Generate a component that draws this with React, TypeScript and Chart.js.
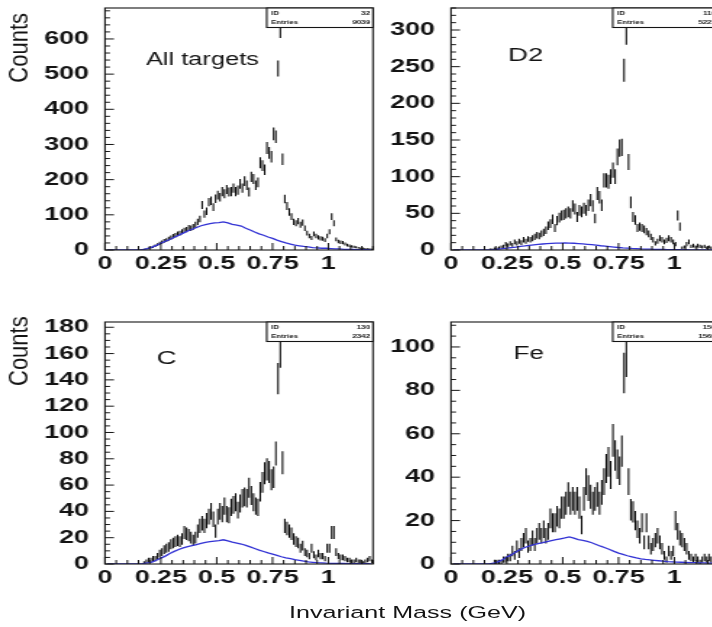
import React, { useEffect, useRef } from "react";
import { Chart, registerables } from "chart.js";

Chart.register(...registerables);

// ---------------- DATA ----------------
// Histogram bins: width 0.01 GeV, first bin starts at 0.15 GeV (centres 0.155 ... 1.195)
const BIN_START = 0.15;
const BIN_WIDTH = 0.01;
// Background (blue) curve sampled every 0.02 GeV starting at 0.01 GeV
const BG_START = 0.01;
const BG_STEP = 0.02;

const allTargetsCounts = [
  0, 1, 2, 3, 5, 7, 9, 12, 15, 19,
  22, 26, 28, 32, 35, 39, 42, 46, 48, 52,
  56, 58, 63, 62, 66, 72, 80, 88, 128, 102,
  110, 136, 140, 122, 146, 156, 150, 166, 160, 172,
  165, 166, 176, 166, 170, 188, 176, 196, 184, 165,
  208, 202, 184, 192, 248, 240, 228, 290, 276, 265,
  330, 322, 516, 628, 258, 145, 125, 108, 95, 80,
  76, 82, 72, 78, 62, 48, 40, 34, 46, 40,
  36, 33, 32, 28, 40, 52, 95, 76, 30, 24,
  22, 21, 17, 14, 12, 10, 9, 8, 6, 5,
  5, 4, 3, 3, 2,
];

const d2Counts = [
  0, 0, 1, 1, 2, 2, 3, 4, 5, 8,
  6, 9, 7, 11, 9, 12, 10, 14, 12, 15,
  14, 16, 18, 20, 19, 22, 24, 27, 33, 36,
  42, 30, 40, 44, 47, 48, 50, 52, 50, 60,
  56, 45, 54, 52, 57, 54, 61, 68, 60, 43,
  77, 72, 61, 95, 95, 93, 100, 109, 100, 127,
  139, 140, 245, 297, 120, 65, 45, 41, 30, 32,
  30, 28, 25, 22, 18, 14, 9, 12, 16, 14,
  11, 13, 16, 14, 11, 8, 47, 32, 3, 4,
  8, 11, 5, 6, 4, 6, 5, 4, 5, 3,
  4, 3, 2, 3, 2,
];

const carbonCounts = [
  0, 0, 1, 2, 3, 3, 4, 4, 6, 8,
  9, 11, 12, 13, 15, 16, 17, 18, 17, 19,
  24, 23, 22, 20, 18, 20, 25, 29, 31, 29,
  33, 36, 40, 34, 25, 36, 40, 38, 44, 38,
  37, 43, 45, 47, 41, 46, 50, 51, 50, 58,
  52, 47, 44, 43, 55, 62, 69, 72, 70, 64,
  66, 84, 141, 162, 77, 29, 27, 25, 23, 19,
  17, 16, 12, 14, 9, 8, 6, 12, 7, 5,
  8, 6, 6, 4, 12, 12, 24, 24, 9, 6,
  5, 5, 4, 3, 3, 2, 2, 3, 2, 2,
  1, 2, 3, 4, 2,
];

const ironCounts = [
  0, 0, 0, 0, 1, 1, 1, 1, 2, 2,
  3, 3, 6, 4, 8, 5, 9, 11, 13, 8,
  9, 12, 9, 13, 15, 13, 16, 13, 15, 21,
  19, 19, 22, 21, 26, 26, 28, 32, 28, 30,
  28, 30, 26, 18, 30, 38, 35, 31, 28, 30,
  32, 28, 33, 38, 44, 47, 41, 57, 50, 46,
  43, 52, 88, 96, 38, 25, 24, 20, 16, 13,
  19, 10, 19, 10, 7, 9, 11, 13, 10, 7,
  4, 2, 6, 4, 6, 20, 15, 12, 11, 9,
  7, 4, 3, 2, 3, 2, 1, 2, 3, 2,
  3, 2, 2, 1, 2,
];

const allTargetsBackground = [
  0, 0, 0, 0, 0, 0, 0,
  0, 1, 4, 8, 13, 19, 25, 30, 36, 42,
  48, 54, 59, 64, 69, 72, 75, 77, 78, 80,
  77, 73, 71, 68, 62, 57, 51, 46, 42, 37,
  33, 28, 24, 20, 17, 14, 12, 10, 9, 7,
  6, 5, 5, 4, 3, 3, 2, 2, 2, 1,
  1, 1, 1,
];

const d2Background = [
  0, 0, 0, 0, 0, 0, 0,
  0, 0.3, 0.6, 1, 1.8, 2.5, 3.3, 4, 4.8, 5.5,
  6.3, 7, 7.6, 8.2, 8.6, 9, 9.3, 9.5, 9.6, 9.5,
  9.2, 8.8, 8.3, 7.8, 7.2, 6.5, 5.8, 5.2, 4.6, 4,
  3.4, 2.9, 2.5, 2.1, 1.8, 1.5, 1.3, 1.1, 0.9, 0.8,
  0.7, 0.6, 0.5, 0.5, 0.4, 0.4, 0.3, 0.3, 0.3, 0.2,
  0.2, 0.2, 0.2,
];

const carbonBackground = [
  0, 0, 0, 0, 0, 0, 0,
  0, 0.3, 0.8, 1.5, 2.8, 4.5, 6, 8, 9.6, 11,
  12.2, 13.2, 14, 14.8, 15.6, 16.4, 17, 17.4, 17.8, 18.4,
  17.6, 16.6, 15.9, 15.2, 14.2, 13, 11.8, 10.6, 9.5, 8.4,
  7.5, 6.5, 5.5, 4.7, 4, 3.3, 2.8, 2.2, 1.6, 1.3,
  1, 0.8, 0.6, 0.5, 0.5, 0.4, 0.4, 0.3, 0.3, 0.3,
  0.2, 0.2, 0.2,
];

const ironBackground = [
  0, 0, 0, 0, 0, 0, 0,
  0, 0.1, 0.4, 1, 2, 3.2, 4.2, 5.5, 6.7, 7.6,
  8.3, 8.9, 9.4, 9.8, 10.3, 10.8, 11.2, 11.6, 12, 12.5,
  11.9, 11.2, 10.9, 10.4, 9.8, 9, 8.2, 7.5, 6.7, 5.8,
  5, 4.4, 3.8, 3.3, 2.8, 2.4, 2.1, 1.9, 1.7, 1.5,
  1.3, 1.1, 1, 0.9, 0.8, 0.7, 0.6, 0.6, 0.5, 0.5,
  0.4, 0.4, 0.3,
];

const X_TICK_VALUES = [0, 0.25, 0.5, 0.75, 1];
const X_TICK_LABELS = ["0", "0.25", "0.5", "0.75", "1"];
const allTargetsYTicks = [0, 100, 200, 300, 400, 500, 600];
const d2YTicks = [0, 50, 100, 150, 200, 250, 300];
const carbonYTicks = [0, 20, 40, 60, 80, 100, 120, 140, 160, 180];
const ironYTicks = [0, 20, 40, 60, 80, 100];

const panelLabels = ["All targets", "D2", "C", "Fe"];
const statIds = ["32", "110", "130", "150"];
const statEntries = ["9039", "5221", "2342", "1569"];
const Y_TITLE = "Counts";
const X_TITLE = "Invariant Mass (GeV)";

// ---------------- LAYOUT / STYLE ----------------
const STRETCH = 1.45; // the figure is drawn horizontally stretched
const CANVAS_W = 262;
const CANVAS_H = 300;
const AXIS_W = 105 / STRETCH;
const PLOT_W = 268 / STRETCH;
const PAD_TOP = 8;
const PLOT_H = 242;
const X_MIN = 0;
const X_MAX = 1.2;
const X_MINOR = 0.05;
const FONT = "'Liberation Sans', Arial, Helvetica, sans-serif";
const INK = "#141414";
const BAR_INK = "#050505";
const BLUE = "#3333d4";

interface PanelSpec {
  left: number;
  top: number;
  counts: number[];
  background: number[];
  yMax: number;
  yTicks: number[];
  yMinor: number;
  label: string;
  labelDx: number;
  labelDy: number;
  labelSize: number;
  statId: string;
  statEntries: string;
  yTitleOffset: number | null;
}

const PANELS: PanelSpec[] = [
  {
    left: 0, top: 0, counts: allTargetsCounts, background: allTargetsBackground,
    yMax: 688, yTicks: allTargetsYTicks, yMinor: 20,
    label: panelLabels[0], labelDx: 41, labelDy: 57, labelSize: 17.5,
    statId: statIds[0], statEntries: statEntries[0], yTitleOffset: 5,
  },
  {
    left: 345.7, top: 0, counts: d2Counts, background: d2Background,
    yMax: 330, yTicks: d2YTicks, yMinor: 10,
    label: panelLabels[1], labelDx: 57, labelDy: 52.5, labelSize: 19,
    statId: statIds[1], statEntries: statEntries[1], yTitleOffset: null,
  },
  {
    left: 0, top: 313.7, counts: carbonCounts, background: carbonBackground,
    yMax: 184, yTicks: carbonYTicks, yMinor: 5,
    label: panelLabels[2], labelDx: 51.7, labelDy: 41.5, labelSize: 19,
    statId: statIds[2], statEntries: statEntries[2], yTitleOffset: -5.7,
  },
  {
    left: 345.7, top: 313.7, counts: ironCounts, background: ironBackground,
    yMax: 111.5, yTicks: ironYTicks, yMinor: 5,
    label: panelLabels[3], labelDx: 62.6, labelDy: 36.5, labelSize: 18,
    statId: statIds[3], statEntries: statEntries[3], yTitleOffset: null,
  },
];

const panelDecor = {
  id: "panelDecor",
  afterDatasetsDraw(chart: any, _args: any, opts: any) {
    const ctx: CanvasRenderingContext2D = chart.ctx;
    const { left, top, right, bottom } = chart.chartArea;
    const xs = chart.scales.x;
    const ys = chart.scales.y;
    ctx.save();
    ctx.strokeStyle = INK;
    ctx.fillStyle = INK;

    // inward ticks
    ctx.lineWidth = 1;
    ctx.beginPath();
    const n = Math.floor(opts.yMax / opts.yMinor + 1e-9);
    for (let k = 0; k <= n; k++) {
      const v = k * opts.yMinor;
      const major = opts.yTicks.indexOf(v) >= 0;
      const py = ys.getPixelForValue(v);
      const len = (major ? 9 : 5) / STRETCH;
      ctx.moveTo(left, py);
      ctx.lineTo(left + len, py);
    }
    const nx = Math.round((X_MAX - X_MIN) / X_MINOR);
    for (let k = 0; k <= nx; k++) {
      const v = X_MIN + k * X_MINOR;
      const px = xs.getPixelForValue(v);
      const len = k % 5 === 0 ? 7 : 4;
      ctx.moveTo(px, bottom);
      ctx.lineTo(px, bottom - len);
    }
    ctx.stroke();

    // frame
    ctx.lineWidth = 1.1;
    ctx.strokeRect(left, top, right - left, bottom - top);

    // stats box
    const bx = left + 0.6034 * (right - left);
    const bh = 19.5;
    ctx.fillStyle = "#ffffff";
    ctx.fillRect(bx, top, right - bx, bh);
    ctx.lineWidth = 1.1;
    ctx.strokeRect(bx, top, right - bx, bh);
    ctx.fillStyle = INK;
    ctx.font = `bold 5.5px ${FONT}`;
    ctx.textBaseline = "middle";
    ctx.textAlign = "left";
    ctx.fillText("ID", bx + 3, top + 5.5);
    ctx.fillText("Entries", bx + 3, top + 14);
    ctx.textAlign = "right";
    ctx.fillText(opts.statId, right - 2, top + 5.5);
    ctx.fillText(opts.statEntries, right - 2, top + 14);

    // panel label
    ctx.textAlign = "left";
    ctx.textBaseline = "alphabetic";
    ctx.font = `${opts.labelSize}px ${FONT}`;
    ctx.fillText(opts.label, left + opts.labelDx / STRETCH, top + opts.labelDy);

    // y title
    if (opts.yTitleOffset !== null && opts.yTitleOffset !== undefined) {
      ctx.save();
      ctx.translate(20 / STRETCH, top + opts.yTitleOffset);
      ctx.scale(0.83, 1);
      ctx.rotate(-Math.PI / 2);
      ctx.textAlign = "right";
      ctx.textBaseline = "middle";
      ctx.font = `22px ${FONT}`;
      ctx.fillText(Y_TITLE, 0, 0);
      ctx.restore();
    }
    ctx.restore();
  },
};

function Panel({ spec }: { spec: PanelSpec }) {
  const ref = useRef<HTMLCanvasElement | null>(null);
  useEffect(() => {
    if (!ref.current) return;
    const errorBars = spec.counts.map((v, i) => {
      const err = Math.sqrt(v);
      return { x: BIN_START + BIN_WIDTH * (i + 0.5), y: [v - err, v + err] };
    });
    const bgPoints = spec.background.map((v, i) => ({ x: BG_START + BG_STEP * i, y: v }));
    const yLabels = spec.yTicks.map((v) => String(v));
    const tickFont = { family: FONT, size: 18.5, weight: "bold" as const, lineHeight: 1.2 };

    const chart = new Chart(ref.current, {
      type: "bar",
      data: {
        datasets: [
          {
            type: "line",
            data: bgPoints as any,
            borderColor: BLUE,
            borderWidth: 1.3,
            pointRadius: 0,
            tension: 0,
            fill: false,
            order: 0,
          } as any,
          {
            type: "bar",
            data: errorBars as any,
            backgroundColor: BAR_INK,
            borderWidth: 0,
            barThickness: 1.05,
            grouped: false,
            inflateAmount: 0,
            order: 1,
          } as any,
        ],
      },
      options: {
        responsive: false,
        animation: false,
        events: [],
        layout: {
          padding: { left: 0, top: PAD_TOP, right: CANVAS_W - AXIS_W - PLOT_W, bottom: 0 },
        },
        plugins: {
          legend: { display: false },
          tooltip: { enabled: false },
          panelDecor: {
            yMax: spec.yMax,
            yTicks: spec.yTicks,
            yMinor: spec.yMinor,
            label: spec.label,
            labelDx: spec.labelDx,
            labelDy: spec.labelDy,
            labelSize: spec.labelSize,
            statId: spec.statId,
            statEntries: spec.statEntries,
            yTitleOffset: spec.yTitleOffset,
          },
        } as any,
        scales: {
          x: {
            type: "linear",
            min: X_MIN,
            max: X_MAX,
            bounds: "data",
            offset: false,
            grid: { display: false, drawTicks: false, offset: false },
            border: { display: false },
            ticks: {
              padding: 3,
              font: tickFont,
              color: INK,
              maxRotation: 0,
              autoSkip: false,
              includeBounds: false,
              callback: (_v: any, i: number) => X_TICK_LABELS[i],
            },
            afterBuildTicks: (s: any) => {
              s.ticks = X_TICK_VALUES.map((v) => ({ value: v }));
            },
            afterFit: (s: any) => {
              s.height = CANVAS_H - PAD_TOP - PLOT_H;
              s.paddingLeft = 0;
              s.paddingRight = 0;
            },
          } as any,
          y: {
            type: "linear",
            min: 0,
            max: spec.yMax,
            bounds: "data",
            grid: { display: false, drawTicks: false },
            border: { display: false },
            ticks: {
              padding: 11,
              font: tickFont,
              color: INK,
              autoSkip: false,
              includeBounds: false,
              callback: (_v: any, i: number) => yLabels[i],
            },
            afterBuildTicks: (s: any) => {
              s.ticks = spec.yTicks.map((v) => ({ value: v }));
            },
            afterFit: (s: any) => {
              s.width = AXIS_W;
              s.paddingTop = 0;
              s.paddingBottom = 0;
            },
          } as any,
        },
      },
      plugins: [panelDecor as any],
    });
    return () => chart.destroy();
  }, [spec]);

  return (
    <div
      style={{
        position: "absolute",
        left: spec.left,
        top: spec.top,
        width: CANVAS_W,
        height: CANVAS_H,
        transform: `scaleX(${STRETCH})`,
        transformOrigin: "0 0",
      }}
    >
      <canvas ref={ref} width={CANVAS_W} height={CANVAS_H} style={{ display: "block" }} />
    </div>
  );
}

export default function App() {
  return (
    <div
      style={{
        position: "absolute",
        left: 0,
        top: 0,
        width: 712,
        height: 627,
        overflow: "hidden",
        background: "#ffffff",
      }}
    >
      {PANELS.map((p, i) => (
        <Panel key={i} spec={p} />
      ))}
      <div
        style={{
          position: "absolute",
          left: 289,
          top: 604,
          fontFamily: FONT,
          fontSize: "17.2px",
          lineHeight: "17.2px",
          whiteSpace: "nowrap",
          transform: "scaleX(1.46)",
          transformOrigin: "0 0",
          color: INK,
        }}
      >
        {X_TITLE}
      </div>
    </div>
  );
}
